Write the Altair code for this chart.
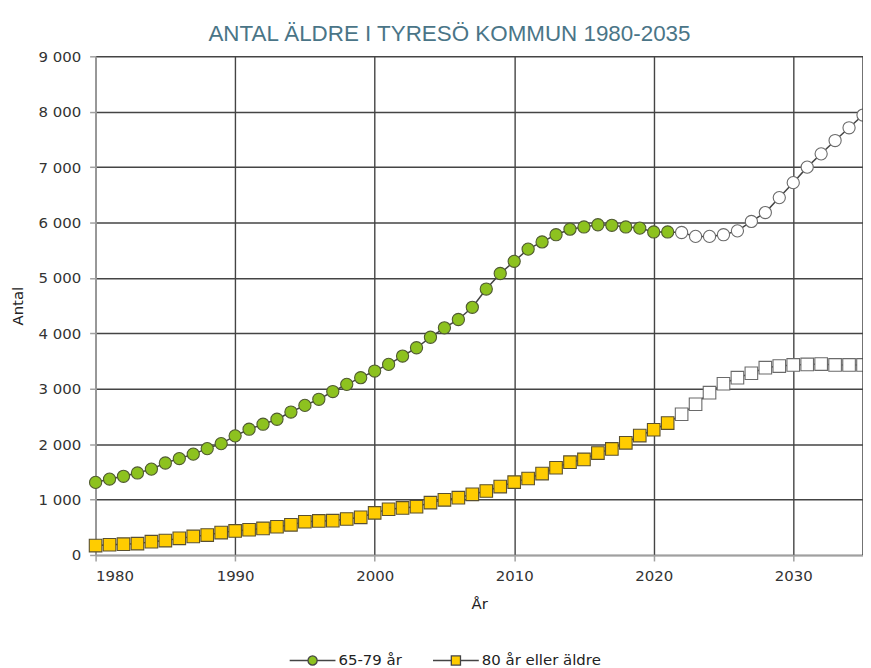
import altair as alt
import pandas as pd

years = list(range(1980, 2036))

# 65-79 år
v65 = [1310, 1370, 1420, 1480, 1550, 1660, 1740, 1820, 1920, 2010,
       2150, 2270, 2360, 2450, 2580, 2700, 2810, 2950, 3080, 3200,
       3320, 3440, 3590, 3740, 3930, 4100, 4250, 4470, 4800, 5080,
       5300, 5520, 5650, 5780, 5880, 5920, 5960, 5950, 5920, 5900,
       5830, 5830, 5820, 5750, 5750, 5780, 5850, 6020, 6180, 6450,
       6720, 7000, 7240, 7480, 7710, 7940]

# 80 år eller äldre
v80 = [170, 185, 195, 205, 240, 260, 300, 335, 360, 405,
       435, 455, 480, 510, 545, 600, 615, 620, 650, 680,
       760, 825, 850, 870, 945, 995, 1035, 1095, 1155, 1235,
       1315, 1380, 1470, 1575, 1675, 1725, 1840, 1915, 2025, 2155,
       2260, 2380, 2540, 2720, 2930, 3090, 3200, 3280, 3380, 3410,
       3430, 3440, 3445, 3430, 3430, 3430]

S1 = "65-79 år"
S2 = "80 år eller äldre"
LAST_OBS = 2021
x_ticks = [1980, 1990, 2000, 2010, 2020, 2030]
y_ticks = list(range(0, 9001, 1000))

GREEN = "#8dc21f"
YELLOW = "#ffcc00"
DARK = "#444444"

rows = []
for yr, a, b in zip(years, v65, v80):
    rows.append({"year": yr, "value": a, "series": S1})
    rows.append({"year": yr, "value": b, "series": S2})
df = pd.DataFrame(rows)

FONT = "DejaVu Sans"

x = alt.X("year:Q",
          scale=alt.Scale(domain=[1980, 2035], nice=False, zero=False),
          axis=alt.Axis(values=x_ticks, format="d", title="År",
                        titleX=385.5, titleY=49, titleBaseline="middle",
                        titleAlign="center", labelPadding=8))
y = alt.Y("value:Q",
          scale=alt.Scale(domain=[0, 9000], nice=False),
          axis=alt.Axis(values=y_ticks,
                        labelExpr="replace(format(datum.value, ','), ',', ' ')",
                        title="Antal", titleX=-78, titleY=250.5,
                        titleAlign="center", titleBaseline="middle",
                        labelPadding=9))

base = alt.Chart(df)

line = base.mark_line(color=DARK, strokeWidth=1.5).encode(
    x=x, y=y, detail="series:N")


def pts(series, observed, shape, fill, stroke, size):
    cond = f"datum.series == '{series}' && datum.year {'<=' if observed else '>'} {LAST_OBS}"
    return base.transform_filter(cond).mark_point(
        shape=shape, filled=True, fill=fill, stroke=stroke,
        strokeWidth=1.1, size=size, opacity=1).encode(x=x, y=y)


c_obs = pts(S1, True, "circle", GREEN, "#4f5a30", 150)
c_proj = pts(S1, False, "circle", "white", "#6a6a6a", 150)
s_obs = pts(S2, True, "square", YELLOW, "#5a5030", 160)
s_proj = pts(S2, False, "square", "white", "#6a6a6a", 160)

right_edge = alt.Chart(pd.DataFrame({"e": [2035]})).mark_rule(
    color=DARK, strokeWidth=1.5).encode(x=alt.X("e:Q"))

path_circle = ("M-1,0L-0.2,0M0.2,0L1,0"
               "M-0.2,0A0.2,0.2,0,1,0,0.2,0A0.2,0.2,0,1,0,-0.2,0Z")
path_square = ("M-1,0L-0.2,0M0.2,0L1,0"
               "M-0.2,-0.2L0.2,-0.2L0.2,0.2L-0.2,0.2Z")

leg = alt.Legend(title=None, orient="none", direction="horizontal",
                 legendX=194, legendY=583, padding=0,
                 symbolSize=2116, symbolStrokeColor=DARK,
                 symbolStrokeWidth=1.3, labelFont=FONT, labelFontSize=15,
                 labelColor="#222222", labelOffset=2, columnPadding=28)

legend_layer = base.transform_filter("datum.year < 0").mark_point(
    filled=True, strokeWidth=1.3, opacity=1).encode(
    x=x, y=y,
    shape=alt.Shape("series:N",
                    scale=alt.Scale(domain=[S1, S2], range=[path_circle, path_square]),
                    legend=leg),
    fill=alt.Fill("series:N",
                  scale=alt.Scale(domain=[S1, S2], range=[GREEN, YELLOW]),
                  legend=leg),
    stroke=alt.Stroke("series:N",
                      scale=alt.Scale(domain=[S1, S2], range=[DARK, DARK]),
                      legend=leg),
)

chart = alt.layer(line, c_obs, c_proj, s_obs, s_proj, right_edge, legend_layer).properties(
    width=771, height=501,
    title=alt.TitleParams("ANTAL ÄLDRE I TYRESÖ KOMMUN 1980-2035",
                          font="Liberation Sans", fontSize=22.5,
                          fontWeight="normal", color="#4a7587",
                          anchor="middle", dx=-30, offset=18, dy=32,
                          baseline="alphabetic"),
    autosize=alt.AutoSizeParams(type="none"),
    padding={"left": 88, "top": 47, "right": 0, "bottom": 112},
).configure_view(stroke=None).configure_axis(
    grid=True, gridColor=DARK, gridWidth=1.4,
    domainColor="#a0a0a0", domainWidth=1.5,
    tickColor="#a0a0a0", tickSize=6, tickWidth=1.5,
    labelFont=FONT, labelFontSize=15, labelColor="#333333",
    titleFont=FONT, titleFontSize=15, titleFontWeight="normal",
    titleColor="#222222",
)

chart.save("out.html", embed_options={"renderer": "svg", "actions": False})
